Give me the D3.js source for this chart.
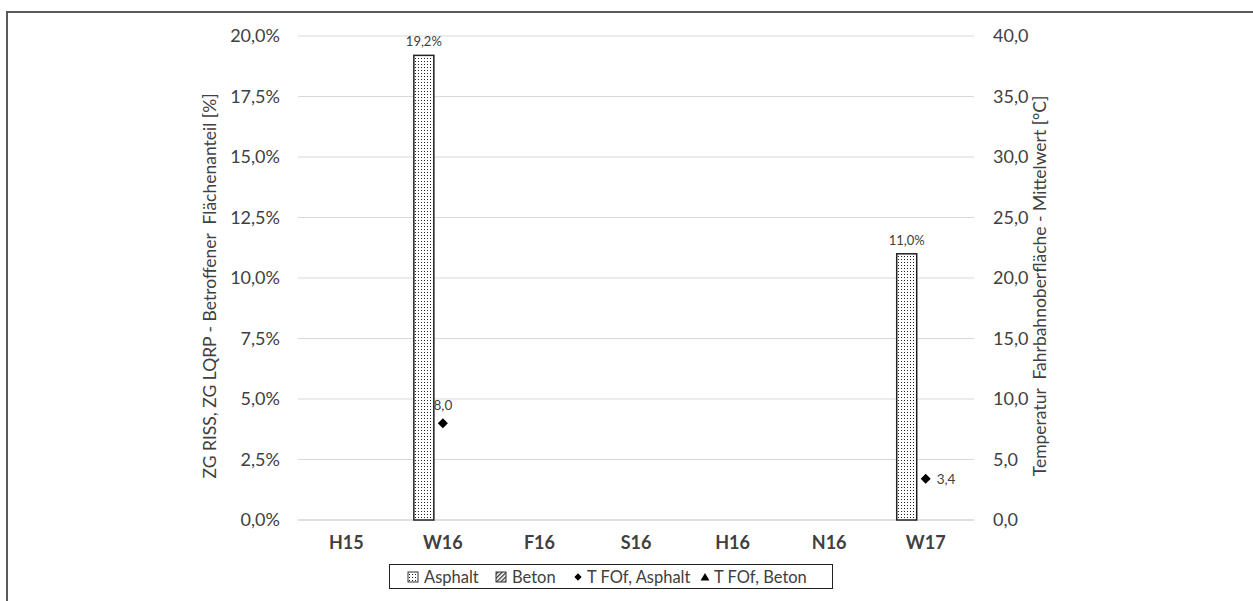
<!DOCTYPE html>
<html><head><meta charset="utf-8">
<script src="https://cdn.jsdelivr.net/npm/d3@7"></script>
<style>body{margin:0;background:#fff}svg{display:block}text{font-family:Lato,"Open Sans",sans-serif;fill:#404040}.pre{white-space:pre}</style>
</head><body><svg id="c" width="1253" height="601"></svg>
<script>
const categories = ["H15","W16","F16","S16","H16","N16","W17"];
const asphaltShare = [null,19.2,null,null,null,null,11.0];
const betonShare = [null,null,null,null,null,null,null];
const tempAsphalt = [null,8.0,null,null,null,null,3.4];
const tempBeton = [null,null,null,null,null,null,null];
const leftTicks = [0,2.5,5,7.5,10,12.5,15,17.5,20];
const rightTicks = [0,5,10,15,20,25,30,35,40];
const legendLabels = ["Asphalt","Beton","T FOf, Asphalt","T FOf, Beton"];

const svg = d3.select("#c");
const L=298,R=974,T=36,B=520;
const x = d3.scaleBand().domain(categories).range([L,R]);
const yL = d3.scaleLinear().domain([0,20]).range([B,T]);
const yR = d3.scaleLinear().domain([0,40]).range([B,T]);
const fmt1 = v => d3.format(".1f")(v).replace(".",",");

const defs = svg.append("defs");
const dots = defs.append("pattern").attr("id","dots").attr("patternUnits","userSpaceOnUse").attr("width",3).attr("height",3);
dots.append("rect").attr("width",3).attr("height",3).attr("fill","#fff");
dots.append("rect").attr("x",1).attr("y",1).attr("width",1).attr("height",1).attr("fill","#222");
const hatch = defs.append("pattern").attr("id","hatch").attr("patternUnits","userSpaceOnUse").attr("width",3).attr("height",3).attr("patternTransform","rotate(45)");
hatch.append("rect").attr("width",3).attr("height",3).attr("fill","#fff");
hatch.append("rect").attr("width",1.3).attr("height",3).attr("fill","#333");

// outer border
svg.append("path").attr("d","M7,606 V12 H1260").attr("fill","none").attr("stroke","#595959").attr("stroke-width",2);

// gridlines
svg.append("g").selectAll("line").data(leftTicks).join("line")
  .attr("x1",L).attr("x2",R).attr("y1",d=>yL(d)).attr("y2",d=>yL(d))
  .attr("stroke",d=>d===0?"#bfbfbf":"#d9d9d9").attr("stroke-width",1);

// left axis
const gl = svg.append("g").attr("transform",`translate(${L},0)`)
  .call(d3.axisLeft(yL).tickValues(leftTicks).tickSize(0).tickPadding(18).tickFormat(d=>fmt1(d)+"%"));
gl.select(".domain").remove();
gl.selectAll("text").attr("font-size",18).style("font-family","Lato").attr("fill","#333");

const gr = svg.append("g").attr("transform",`translate(${R},0)`)
  .call(d3.axisRight(yR).tickValues(rightTicks).tickSize(0).tickPadding(19).tickFormat(fmt1));
gr.select(".domain").remove();
gr.selectAll("text").attr("font-size",18).style("font-family","Lato").attr("fill","#333");

const gx = svg.append("g").attr("transform",`translate(0,${B})`)
  .call(d3.axisBottom(x).tickSize(0).tickPadding(16));
gx.select(".domain").remove();
gx.selectAll("text").attr("font-size",18).attr("font-weight","bold").style("font-family","Lato").attr("fill","#333");

// bars
const bw = 20;
const bars = categories.map((c,i)=>({c,v:asphaltShare[i]})).filter(d=>d.v!=null);
svg.append("g").selectAll("rect").data(bars).join("rect")
  .attr("x",d=>x(d.c)+x.bandwidth()/2-29).attr("width",bw)
  .attr("y",d=>yL(d.v)).attr("height",d=>B-yL(d.v))
  .attr("fill","url(#dots)").attr("stroke","#222").attr("stroke-width",1.5);
svg.append("g").selectAll("text").data(bars).join("text")
  .attr("x",d=>x(d.c)+x.bandwidth()/2-19).attr("y",d=>yL(d.v)-9)
  .attr("text-anchor","middle").attr("font-size",13).attr("fill","#111").text(d=>fmt1(d.v)+"%");

// temperature markers
const temps = categories.map((c,i)=>({c,v:tempAsphalt[i],i})).filter(d=>d.v!=null);
const diamond = d3.symbol().type(d3.symbolDiamond2).size(64);
svg.append("g").selectAll("path").data(temps).join("path")
  .attr("transform",d=>`translate(${x(d.c)+x.bandwidth()/2},${yR(d.v)})`)
  .attr("d",diamond).attr("fill","#000");
svg.append("g").selectAll("text").data(temps).join("text")
  .attr("x",(d,k)=>x(d.c)+x.bandwidth()/2+(k===0?0:11))
  .attr("y",(d,k)=>yR(d.v)+(k===0?-13:5))
  .attr("text-anchor",(d,k)=>k===0?"middle":"start")
  .attr("font-size",13.5).attr("fill","#111").text(d=>fmt1(d.v));

// axis titles
svg.append("text").attr("class","pre").attr("transform",`translate(216,${(T+B)/2+8}) rotate(-90)`)
  .attr("text-anchor","middle").attr("font-size",17.5).attr("fill","#222")
  .text("ZG RISS, ZG LQRP - Betroffener  Flächenanteil [%]");
svg.append("text").attr("class","pre").attr("transform",`translate(1046,${(T+B)/2+8}) rotate(-90)`)
  .attr("text-anchor","middle").attr("font-size",17.5).attr("fill","#222")
  .text("Temperatur  Fahrbahnoberfläche - Mittelwert [°C]");

// legend
const lg = svg.append("g");
lg.append("rect").attr("x",389.5).attr("y",564.5).attr("width",443).attr("height",24).attr("fill","#fff").attr("stroke","#222").attr("stroke-width",1);
const items = [{x:409,t:0},{x:497,t:1},{x:578,t:2},{x:705,t:3}];
items.forEach((it,k)=>{
  const cy=577;
  if(it.t===0){lg.append("rect").attr("x",it.x-1).attr("y",cy-5).attr("width",10).attr("height",10).attr("fill","url(#dots)").attr("stroke","#333");}
  else if(it.t===1){lg.append("rect").attr("x",it.x-1).attr("y",cy-5).attr("width",10).attr("height",10).attr("fill","url(#hatch)").attr("stroke","#333");}
  else if(it.t===2){lg.append("path").attr("transform",`translate(${it.x},${cy})`).attr("d",d3.symbol().type(d3.symbolDiamond2).size(34)).attr("fill","#000");}
  else {lg.append("path").attr("transform",`translate(${it.x},${cy+1})`).attr("d",d3.symbol().type(d3.symbolTriangle).size(34)).attr("fill","#000");}
  lg.append("text").attr("x",it.x+(it.t<2?15:9)).attr("y",cy+6).attr("font-size",16.5).attr("fill","#222").text(legendLabels[k]);
});
</script></body></html>
